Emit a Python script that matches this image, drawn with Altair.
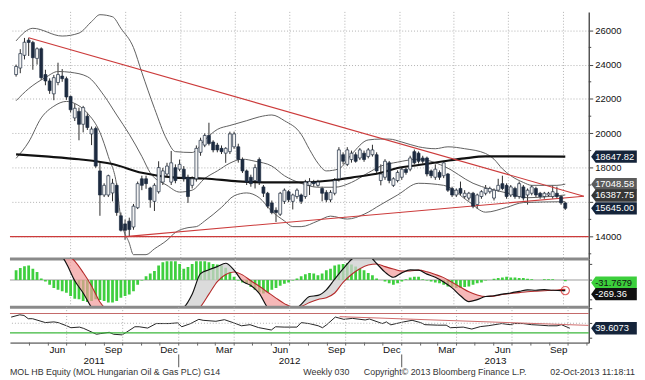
import altair as alt
import pandas as pd

FIRST_BAR = "2011-04-01"   # first weekly bar (Friday)

# ---------------- weekly candles (HUF) ----------------
opens = [23420, 23800, 24540, 25420, 25290, 24360, 24920, 23420, 23050, 22300,
         22960, 23330, 23180, 22150, 20900, 21280, 20530, 21000, 19970, 20290,
         17820, 16420, 16420, 16540, 16980, 15210, 14740, 14900, 14560, 15680,
         17360, 17360, 16830, 16050, 16610, 17170, 17640, 17170, 18010, 17920,
         17920, 17450, 16980, 17360, 18900, 19320, 19880, 19500, 19320, 19130,
         18850, 18940, 19220, 19220, 18480, 17820, 17450, 17260, 18480, 16890,
         16520, 15960, 15530, 15300, 16050, 16610, 16050, 16330, 16420, 16330,
         16980, 17170, 16980, 16800, 16570, 16140, 16520, 17360, 18760, 18200,
         18480, 18760, 18570, 18850, 18660, 18760, 18760, 17260, 17450, 18290,
         16980, 17260, 17450, 17920, 17920, 18940, 18850, 18570, 18570, 17820,
         17450, 17730, 17540, 17640, 16800, 16420, 16800, 16330, 16240, 16520,
         15860, 16330, 16520, 16610, 16240, 16700, 17080, 16980, 16420, 16800,
         16330, 16890, 16420, 16520, 16800, 16520, 16330, 16420, 16330, 16520,
         16330, 15960]
highs = [24000, 24900, 25550, 25560, 25380, 25000, 25000, 23700, 23200, 23400,
         24110, 23740, 23300, 22200, 21740, 21500, 21600, 21200, 20400, 20400,
         18290, 17100, 17600, 17360, 17100, 15400, 15000, 15100, 15900, 17200,
         17540, 17540, 16900, 17100, 18380, 18000, 18290, 18980, 18200, 18480,
         18100, 17600, 17500, 19300, 19750, 20000, 20620, 19600, 19450, 19300,
         19200, 20100, 20100, 19400, 18600, 17900, 17600, 18200, 18600, 17000,
         16600, 16100, 15700, 16600, 16800, 16700, 16500, 16800, 16500, 17300,
         17400, 17300, 17300, 16900, 16700, 16700, 17400, 19200, 18900, 19200,
         19000, 18900, 19150, 19000, 19150, 19340, 18900, 18200, 18500, 18400,
         17450, 17850, 18000, 18000, 18700, 19060, 18950, 18700, 18650, 17900,
         18200, 17850, 18400, 17700, 16900, 16800, 17200, 16700, 16600, 16600,
         16500, 16700, 17000, 16900, 16800, 17360, 17540, 17100, 17000, 16900,
         17200, 17000, 16800, 17000, 16900, 16600, 16600, 16600, 16980, 16900,
         16400, 16000]
lows = [23300, 23500, 24300, 24500, 23700, 24000, 23100, 22800, 22300, 21930,
        22800, 23000, 21950, 21200, 20720, 19600, 20060, 20200, 19320, 18000,
        15210, 16300, 16300, 16050, 15210, 14300, 13810, 14000, 14400, 15600,
        16700, 16780, 15680, 15490, 16500, 17000, 17500, 17000, 17100, 17800,
        17200, 15960, 16800, 17200, 18700, 19200, 19300, 18900, 18900, 18800,
        18290, 18800, 19100, 18300, 17700, 17000, 16900, 16800, 17000, 16300,
        15650, 15300, 14850, 15200, 15900, 16000, 15580, 16200, 15900, 16200,
        16420, 16900, 16900, 16050, 16000, 16000, 16400, 17200, 18200, 18100,
        18300, 18300, 18450, 18350, 18550, 18650, 17700, 16980, 17300, 17100,
        16890, 17150, 17300, 17600, 17800, 18200, 18250, 18250, 17500, 17400,
        17300, 17300, 17400, 16600, 16300, 16300, 16400, 16200, 16100, 15650,
        15600, 16200, 16400, 16500, 16100, 16600, 16700, 16200, 16300, 16200,
        16200, 16100, 15860, 16400, 16300, 16200, 16200, 16300, 16200, 16200,
        15850, 15550]
closes = [23890, 24640, 25300, 25290, 24400, 24920, 23240, 23050, 22490, 23240,
          23420, 23180, 22120, 21370, 21460, 20530, 21500, 20340, 20250, 18100,
          16420, 16980, 17540, 17100, 15400, 14370, 14370, 14410, 15770, 17080,
          16980, 17080, 16140, 16980, 18010, 17820, 18100, 18290, 17260, 18200,
          17360, 16330, 17360, 19130, 19600, 19880, 19410, 19040, 19040, 18940,
          19130, 19970, 19970, 18480, 17820, 17170, 17080, 18010, 17170, 16520,
          15770, 15400, 15400, 16520, 16700, 16140, 16420, 16700, 16050, 17170,
          17210, 17080, 17170, 16520, 16140, 16570, 17260, 19040, 18380, 19040,
          18850, 18380, 19040, 18480, 19040, 19040, 17820, 17640, 18380, 17260,
          17360, 17730, 17920, 17730, 18570, 18290, 18380, 18380, 17640, 17540,
          17920, 17450, 18290, 16700, 16420, 16700, 16520, 16520, 16520, 15770,
          16420, 16610, 16800, 16800, 16700, 16980, 16800, 16330, 16890, 16330,
          17080, 16240, 16700, 16890, 16420, 16330, 16520, 16520, 16610, 16330,
          15960, 15645]

# ---------------- Bollinger bands / moving average (week index, HUF) ----------------
upper_wk = [0, 4, 11, 15, 18, 20, 23, 25, 28, 30, 33, 36, 38, 42, 45, 48, 51, 55, 58, 61,
            64, 68, 70, 72, 74, 77, 80, 84, 87, 89, 92, 96, 100, 103, 107, 112, 114, 116, 118, 121,
            123, 126, 129, 131]
upper_val = [25380, 26110, 25660, 25830, 26500, 26900, 26780, 26110, 24990, 23540,
             21460, 19620, 18940, 18890, 19620, 20230, 20460, 20740, 20960, 21070,
             20740, 19950, 19060, 18270, 17820, 17940, 18780, 19620, 19670, 19670,
             19500, 19220, 19110, 19220, 19110, 18830, 18500, 17940, 17540, 17150,
             16980, 16980, 16980, 17050]
mid_wk = [0, 3, 7, 10, 13, 17, 21, 24, 27, 30, 32, 36, 39, 42, 45, 48, 51, 54, 57, 61,
          64, 68, 72, 76, 80, 84, 87, 91, 96, 102, 109, 117, 122, 126, 131]
mid_val = [21900, 22600, 23250, 23600, 23550, 23300, 22190, 21070, 19950, 18660,
           17710, 16980, 16590, 16700, 17380, 17820, 18270, 18500, 18380, 18100,
           17540, 17100, 16870, 16870, 17150, 17710, 18100, 18330, 18500, 18100,
           17100, 16540, 16260, 16310, 16420]
low_wk = [0, 3, 6, 9, 12, 14, 17, 20, 22, 24, 25, 27, 28, 31, 33, 36, 38, 41, 43, 45,
          49, 52, 55, 58, 61, 64, 66, 68, 72, 75, 79, 83, 87, 91, 96, 102, 108, 112, 117, 121,
          131]
low_val = [18550, 19500, 20900, 21580, 21860, 21740, 21180, 20060, 18660, 16980,
           15020, 13620, 12950, 12950, 13290, 13790, 14240, 14520, 14580, 14910,
           15700, 16370, 16540, 16260, 15470, 14910, 14580, 14580, 14910, 15190,
           15020, 15300, 15860, 16420, 17100, 16980, 16030, 15420, 15700, 15980,
           16030]
ma_wk = [0, 7, 15, 23, 30, 38, 45, 53, 61, 68, 75, 80, 87, 91, 96, 102, 107, 112, 119, 131]
ma_val = [18780, 18660, 18500, 18220, 17710, 17430, 17380, 17210, 17150, 17150,
          17260, 17430, 17710, 17990, 18160, 18380, 18550, 18660, 18660, 18648]

# trend lines
down_dates = ["2011-04-22", "2013-11-04"]
down_vals = [25560, 16350]
up_dates = ["2011-09-30", "2013-11-04"]
up_vals = [14000, 16350]
support_level = [14000]

# right-hand value tags (main panel)
tag_vals = [18647.82, 17048.58, 16387.75, 15645.00]
tag_text = ["18647.82", "17048.58", "16387.75", "15645.00"]
tag_fill = ["#15243a", "#5b5b5b", "#363636", "#15243a"]

# ---------------- MACD ----------------
hist_vals = [245, 302, 351, 368, 286, 204, 41, -41, -123, -204, -245, -286, -327, -409, -474,
             -490, -531, -556, -531, -490, -507, -531, -572, -572, -531, -449, -409, -368, -286,
             -123, -16, 98, 163, 229, 368, 449, 474, 474, 474, 409, 286, 327, 409, 474, 474, 474,
             449, 409, 392,
             368, 310, 204, 82, -16, -65, -98, -180, -245, -310, -343, -310, -245, -204, -147,
             -98, -65, -16, 41, 98, 147, 180, 163, 123, 163, 245, 286, 368, 392, 409, 425, 392,
             343, 286, 245, 180, 123, 41, 0, -41, -82, -123, -82, -41, 16, 65, 82, 82,
             16, -16, -41, -65, -82, -123, -163, -180, -204, -204, -180, -163, -123, -82, -65,
             -16, 0, 33, 49, 65, 82, 65, 65, 49, 49, 33, 16, 0, 0, 16, 16, 16, 0, 0, -31.7679]
macd_wk = list(range(0, 131, 2)) + [131]
macd_vals = [900, 1000, 1050, 1000, 900, 750, 420, -20, -330, -700, -950, -1150, -1300, -1400,
             -1400, -1350, -1250, -1100, -950, -800, -700, -360, 160, 260, 340, 425, 250, -30,
             -140, -340, -700, -850, -900, -800, -620, -420, -392, -250, 20, 280, 520, 650, 620,
             420, 200, 70, 180, 255, 250, 150, 70, -50, -200, -400, -550, -500, -420, -400, -360,
             -330, -290, -250, -260, -245, -260, -269, -269.36]
signal_vals = [700, 800, 850, 850, 820, 750, 650, 480, 190, -150, -560, -800, -1000, -1150,
               -1250, -1300, -1300, -1250, -1150, -1050, -950, -850, -680, -360, -40, 140, 204,
               130, -20, -160, -310, -460, -600, -690, -670, -572, -495, -450, -330, -60, 140,
               285, 380, 405, 340, 280, 230, 229, 250, 210, 140, 60, -60, -180, -300, -380, -420,
               -410, -370, -340, -320, -300, -285, -272, -262, -245, -237.6]

# ---------------- RSI ----------------
rsi_wk = [0, 2, 3, 4, 5, 7, 8, 10, 11, 13, 14, 16, 17, 20, 21, 23, 24, 26, 27, 29,
          30, 32, 34, 36, 37, 39, 40, 42, 44, 45, 48, 50, 52, 54, 56, 58, 61, 62, 64, 67,
          68, 70, 72, 73, 74, 76, 78, 80, 83, 84, 87, 88, 89, 92, 94, 96, 97, 100, 102, 103,
          106, 108, 110, 112, 115, 117, 118, 120, 122, 124, 126, 128, 129, 131]
rsi_val = [62.6, 67.3, 66, 59.3, 59.3, 54, 51.3, 52.7, 51.3, 44.7,
           40.7, 42, 39.3, 27.3, 28.7, 31.3, 27.3, 26, 31.3, 42.7,
           42.7, 40, 49.3, 49.3, 49.3, 50.7, 42.7, 49, 58, 56,
           54, 57.3, 51.3, 44.7, 47, 41, 36, 42.7, 42, 42,
           51.3, 49, 44.7, 40.7, 47, 62.7, 58, 60, 56.7, 58.7,
           49.3, 52.7, 46.7, 52.7, 56, 51.3, 47, 46, 46, 40.7,
           42, 38, 43, 45, 49.3, 47, 49.3, 49.3, 47, 46,
           44.7, 44.7, 47, 39.6073]
rsi_trend_dates = ["2012-09-21", "2013-11-04"]
rsi_trend_vals = [63.5, 45.5]

# ---------------- axis text ----------------
quarter_starts = ["2011-07-01", "2011-10-01", "2012-01-01", "2012-04-01", "2012-07-01",
                  "2012-10-01", "2013-01-01", "2013-04-01", "2013-07-01", "2013-10-01"]
month_label_days = [(2011, 6), (2011, 9), (2011, 12), (2012, 3), (2012, 6), (2012, 9),
                    (2012, 12), (2013, 3), (2013, 6), (2013, 9)]
year_labels = ["2011", "2012", "2013"]
year_label_dates = ["2011-08-15", "2012-07-01", "2013-06-04"]
year_breaks = ["2012-01-01", "2013-01-01"]
price_major = [14000, 16000, 18000, 20000, 22000, 24000, 26000]
price_minor = [13000, 15000, 17000, 19000, 21000, 23000, 25000]

# ---------------- layout ----------------
W, H1, H2, H3 = 588, 251, 49, 36
FONT = "Liberation Sans"
BOX = "M-1,0L-0.8,-0.27L1,-0.27L1,0.27L-0.8,0.27Z"
BOX_SIZE = 2150
BOX_X = W + 25.6


def wk_dates(idx):
    return [(pd.Timestamp(FIRST_BAR) + pd.Timedelta(weeks=int(i))).strftime("%Y-%m-%d") for i in idx]


bar_dates = wk_dates(range(len(closes)))
xscale = alt.Scale(type="utc", domain=[alt.DateTime(year=2011, month=3, date=30, utc=True),
                                       alt.DateTime(year=2013, month=11, date=4, utc=True)])

xaxis_bottom = alt.Axis(orient="bottom",
                        values=[alt.DateTime(year=y, month=m, date=15, utc=True) for y, m in month_label_days],
                        labelExpr="utcFormat(datum.value, '%b')", tickSize=0, labelPadding=2,
                        domainColor="#8a8a8a", domainWidth=2, labelFontSize=10, labelColor="#111",
                        grid=False, title=None, labelFlush=False, labelOverlap=False)

ys_main = alt.Scale(domain=[12700, 27064], nice=False, zero=False)
ys_macd = alt.Scale(domain=[-691, 534], nice=False, zero=False)
ys_rsi = alt.Scale(domain=[10, 83], nice=False, zero=False)

yaxis_main = alt.Axis(orient="right", values=price_major,
                      labelExpr="datum.value == 16000 ? '' : format(datum.value, 'd')",
                      grid=True, gridDash=[1, 2], gridColor="#b0b0b0", tickSize=4,
                      tickColor="#444", domainColor="#555", domainWidth=1.5,
                      labelFontSize=9.6, labelColor="#111", labelPadding=2, title=None)
yaxis_macd = alt.Axis(orient="right", values=[-500, 0, 400], labels=False, tickSize=3,
                      tickColor="#444", grid=False, domainColor="#555", domainWidth=1.5, title=None)
yaxis_rsi = alt.Axis(orient="right", values=[20, 50, 80], labels=False, tickSize=3,
                     tickColor="#444", grid=False, domainColor="#555", domainWidth=1.5, title=None)


def panel(ys, yax, xax):
    def X(field="date"):
        return alt.X(f"{field}:T", scale=xscale, axis=xax, title=None)

    def Y(field):
        return alt.Y(f"{field}:Q", scale=ys, axis=yax, title=None)
    return X, Y


one = pd.DataFrame({"k": [0]})
qdf = pd.DataFrame({"date": quarter_starts})


def vgrid(X):
    return alt.Chart(qdf).mark_rule(color="#b0b0b0", strokeDash=[1, 2], strokeWidth=1).encode(x=X())


def seg(X, Y, dates, vals, color, width=1):
    df = pd.DataFrame({"date": dates, "v": vals})
    return alt.Chart(df).mark_line(color=color, strokeWidth=width, clip=True).encode(x=X(), y=Y("v"))


def tag(Y, df, fill, textcol, off=0.0):
    box = alt.Chart(df).mark_point(shape=BOX, size=BOX_SIZE, filled=True, opacity=1, strokeWidth=0,
                                   color=fill, yOffset=off).encode(x=alt.value(BOX_X), y=Y("v"))
    txt = alt.Chart(df).mark_text(align="left", baseline="middle", fontSize=9.5, color=textcol,
                                  yOffset=off).encode(x=alt.value(W + 6.5), y=Y("v"), text="txt:N")
    return [box, txt]


# ---------- main panel ----------
X, Y = panel(ys_main, yaxis_main, None)
candles = pd.DataFrame({"date": bar_dates, "open": opens, "high": highs,
                        "low": lows, "close": closes})
candles["dir"] = ["up" if c >= o else "down" for o, c in zip(opens, closes)]

wicks = alt.Chart(candles).mark_rule(color="#2a2a2a", strokeWidth=1, clip=True).encode(
    x=X(), y=Y("low"), y2="high:Q")
bodies = alt.Chart(candles).mark_bar(size=3, stroke="#1d2b40", strokeWidth=0.7, clip=True).encode(
    x=X(), y=Y("open"), y2="close:Q",
    fill=alt.Fill("dir:N", scale=alt.Scale(domain=["up", "down"], range=["#f2f2f2", "#1d2b40"]),
                  legend=None))


def price_line(wk, vals, color, width):
    df = pd.DataFrame({"date": wk_dates(wk), "v": vals})
    return alt.Chart(df).mark_line(color=color, strokeWidth=width, interpolate="monotone",
                                   clip=True).encode(x=X(), y=Y("v"))


upper = price_line(upper_wk, upper_val, "#5e5e5e", 1)
mid = price_line(mid_wk, mid_val, "#5e5e5e", 1)
lower = price_line(low_wk, low_val, "#5e5e5e", 1)
ma = price_line(ma_wk, ma_val, "#111111", 2.2)
tdown = seg(X, Y, down_dates, down_vals, "#cc3b3b", 1.1)
tup = seg(X, Y, up_dates, up_vals, "#cc3b3b", 1.1)
support = alt.Chart(pd.DataFrame({"v": support_level})).mark_rule(
    color="#cc3b3b", strokeWidth=1.2).encode(y=Y("v"))
minor = alt.Chart(pd.DataFrame({"v": price_minor})).mark_rule(color="#444", strokeWidth=1).encode(
    y=Y("v"), x=alt.value(W), x2=alt.value(W + 2.5))
sep1 = alt.Chart(one).mark_rule(color="#8a8a8a", strokeWidth=3).encode(
    x=alt.value(0), x2=alt.value(W), y=alt.value(H1))

main_tags = []
for v, t, f in zip(tag_vals, tag_text, tag_fill):
    main_tags += tag(Y, pd.DataFrame({"v": [v], "txt": [t]}), f, "white")

main = alt.layer(wicks, vgrid(X), upper, mid, lower, ma, tdown, tup, support, bodies,
                 minor, sep1, *main_tags).properties(width=W, height=H1)

# ---------- MACD panel ----------
X, Y = panel(ys_macd, yaxis_macd, None)
hdf = pd.DataFrame({"date": bar_dates, "h": hist_vals})
mdf = pd.DataFrame({"date": wk_dates(macd_wk), "macd": macd_vals, "sig": signal_vals})
mbase = alt.Chart(mdf).transform_calculate(lo="min(datum.macd, datum.sig)")

zero = alt.Chart(pd.DataFrame({"v": [0]})).mark_rule(color="#9a9a9a", strokeWidth=1).encode(y=Y("v"))
hist = alt.Chart(hdf).mark_bar(size=2.8, color="#3fcf3f", clip=True).encode(
    x=X(), y=Y("h"), y2=alt.datum(0))
pink = mbase.mark_area(color="#f29a9a", opacity=0.7, interpolate="monotone", clip=True).encode(
    x=X(), y=Y("sig"), y2="lo:Q")
grey = mbase.mark_area(color="#cfcfcf", opacity=0.75, interpolate="monotone", clip=True).encode(
    x=X(), y=Y("macd"), y2="lo:Q")
sig_line = mbase.mark_line(color="#b52a2a", strokeWidth=1.1, interpolate="monotone", clip=True).encode(
    x=X(), y=Y("sig"))
macd_line = mbase.mark_line(color="#111111", strokeWidth=1.2, interpolate="monotone", clip=True).encode(
    x=X(), y=Y("macd"))
circ = alt.Chart(pd.DataFrame({"date": [bar_dates[-1]], "v": [macd_vals[-1]]})).mark_point(
    shape="circle", size=70, color="#d62020", strokeWidth=1.2, filled=False).encode(x=X(), y=Y("v"))
sep2 = alt.Chart(one).mark_rule(color="#8a8a8a", strokeWidth=3).encode(
    x=alt.value(0), x2=alt.value(W), y=alt.value(H2))

macd_tags = (tag(Y, pd.DataFrame({"v": [hist_vals[-1]], "txt": ["-31.7679"]}), "#3ccf3c", "#111111", 1.5)
             + tag(Y, pd.DataFrame({"v": [macd_vals[-1]], "txt": ["-269.36"]}), "#111111", "white", 3.6))

macd = alt.layer(zero, vgrid(X), hist, pink, grey, sig_line, macd_line, circ, sep2,
                 *macd_tags).properties(width=W, height=H2)

# ---------- RSI panel ----------
X, Y = panel(ys_rsi, yaxis_rsi, xaxis_bottom)
rdf = pd.DataFrame({"date": wk_dates(rsi_wk), "v": rsi_val})


def lvl(v, c, dash):
    return alt.Chart(pd.DataFrame({"v": [v]})).mark_rule(
        color=c, strokeWidth=1.2, strokeDash=dash).encode(y=Y("v"))


rsi_line = alt.Chart(rdf).mark_line(color="#222", strokeWidth=1, clip=True).encode(x=X(), y=Y("v"))
rsi_tr = seg(X, Y, rsi_trend_dates, rsi_trend_vals, "#cf6a6a", 1)
rsi_tags = tag(Y, pd.DataFrame({"v": [rsi_val[-1]], "txt": ["39.6073"]}), "#15243a", "white")

month_ticks = pd.DataFrame({"date": pd.date_range("2011-05-01", "2013-11-01", freq="MS").strftime("%Y-%m-%d")})
mticks = alt.Chart(month_ticks).mark_rule(color="#666", strokeWidth=1).encode(
    x=X(), y=alt.value(H3), y2=alt.value(H3 + 3))
ylab = alt.Chart(pd.DataFrame({"date": year_label_dates, "t": year_labels})).mark_text(
    fontSize=10, color="#111", baseline="middle").encode(x=X(), y=alt.value(H3 + 19), text="t:N")
ybrk = alt.Chart(pd.DataFrame({"date": year_breaks})).mark_rule(color="#555", strokeWidth=1).encode(
    x=X(), y=alt.value(H3 + 12), y2=alt.value(H3 + 25))


def footer(txt, xpos, align):
    return alt.Chart(pd.DataFrame({"t": [txt]})).mark_text(
        fontSize=9, color="#333", align=align, baseline="middle").encode(
        x=alt.value(xpos), y=alt.value(H3 + 30), text="t:N")


foot = [footer("MOL HB Equity (MOL Hungarian Oil & Gas PLC) G14", 0, "left"),
        footer("Weekly 030", 298, "left"),
        footer("Copyright\u00a9 2013 Bloomberg Finance L.P.", 359.5, "left"),
        footer("02-Oct-2013 11:18:11", 635, "right")]

rsi = alt.layer(rsi_line, vgrid(X), lvl(50, "#b0b0b0", [1, 2]), lvl(70, "#c46a6a", [1, 0]),
                lvl(30, "#3cb83c", [1, 0]), rsi_tr, *rsi_tags,
                mticks, ylab, ybrk, *foot).properties(width=W, height=H3)

chart = alt.vconcat(main, macd, rsi, spacing=0, bounds="flush", padding=0).configure(
    font=FONT, background="white").configure_view(stroke=None)

chart.save("out.html", embed_options={"renderer": "svg", "actions": False})
